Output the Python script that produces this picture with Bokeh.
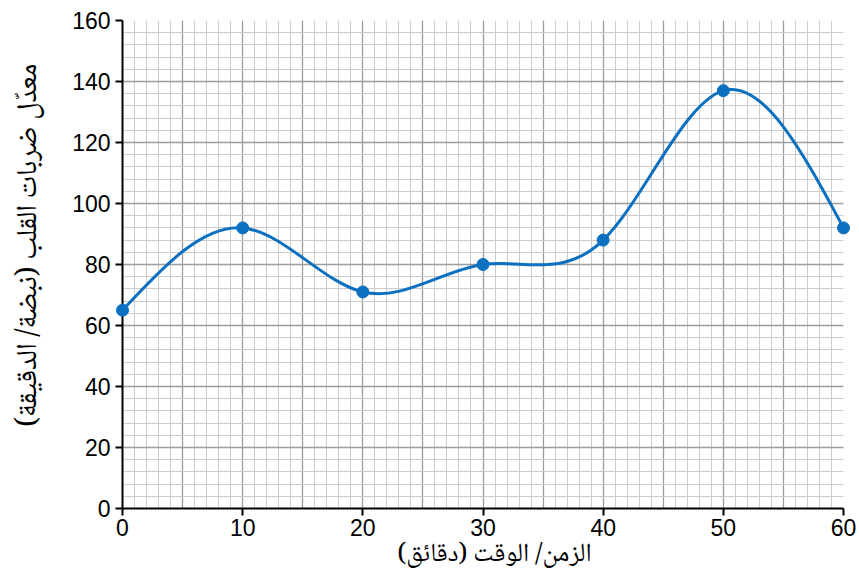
import numpy as np
from bokeh.plotting import figure
from bokeh.models import Range1d, SingleIntervalTicker, ColumnDataSource
from bokeh.embed import file_html
from bokeh.resources import INLINE

# data
minutes = [0, 10, 20, 30, 40, 50, 60]
heart_rate = [65, 92, 71, 80, 88, 137, 92]
x_ticks = [0, 10, 20, 30, 40, 50, 60]
y_ticks = [0, 20, 40, 60, 80, 100, 120, 140, 160]
x_title = "الزمن/ الوقت (دقائق)"
y_title = "معدّل ضربات القلب (نبضة/ الدقيقة)"

BLUE = "#0b70c0"
AR_FONT = "Noto Naskh Arabic, Noto Sans Arabic, DejaVu Sans"
NUM_FONT = "Liberation Sans"

# natural cubic spline slopes -> bezier segments (smooth line through the data)
x = np.array(minutes, dtype=float)
y = np.array(heart_rate, dtype=float)
n = len(x)
h = np.diff(x)
A = np.zeros((n, n))
b = np.zeros(n)
A[0, 0] = 1
A[-1, -1] = 1
for i in range(1, n - 1):
    A[i, i - 1] = h[i - 1]
    A[i, i] = 2 * (h[i - 1] + h[i])
    A[i, i + 1] = h[i]
    b[i] = 6 * ((y[i + 1] - y[i]) / h[i] - (y[i] - y[i - 1]) / h[i - 1])
M = np.linalg.solve(A, b)
m = np.zeros(n)
for i in range(n - 1):
    m[i] = (y[i + 1] - y[i]) / h[i] - h[i] * (2 * M[i] + M[i + 1]) / 6
m[-1] = (y[-1] - y[-2]) / h[-1] + h[-1] * (M[-2] + 2 * M[-1]) / 6

seg = ColumnDataSource(dict(
    x0=x[:-1], y0=y[:-1], x1=x[1:], y1=y[1:],
    cx0=x[:-1] + h / 3, cy0=y[:-1] + m[:-1] * h / 3,
    cx1=x[1:] - h / 3, cy1=y[1:] - m[1:] * h / 3,
))

p = figure(width=859, height=579, x_range=Range1d(0, 60), y_range=Range1d(0, 160),
           output_backend="svg", toolbar_location=None,
           min_border_left=122, min_border_top=20, min_border_right=16, min_border_bottom=71)
p.outline_line_color = None
p.background_fill_color = "white"
p.border_fill_color = "white"

# grids
p.xgrid.ticker = SingleIntervalTicker(interval=5, num_minor_ticks=5)
p.ygrid.ticker = SingleIntervalTicker(interval=20, num_minor_ticks=5)
for g in (p.xgrid, p.ygrid):
    g.grid_line_color = "#9c9c9c"
    g.grid_line_width = 1.3
    g.minor_grid_line_color = "#cccccc"
    g.minor_grid_line_width = 1

# axes
p.xaxis.ticker = x_ticks
p.yaxis.ticker = y_ticks
for ax in (p.xaxis, p.yaxis):
    ax.axis_line_color = "black"
    ax.axis_line_width = 2
    ax.major_tick_line_color = "black"
    ax.major_tick_line_width = 2
    ax.major_tick_out = 7
    ax.major_tick_in = 0
    ax.minor_tick_line_color = None
    ax.major_label_text_font = NUM_FONT
    ax.major_label_text_font_size = "23px"
    ax.major_label_text_color = "black"
    ax.axis_label_text_font = AR_FONT
    ax.axis_label_text_font_style = "normal"
    ax.axis_label_text_color = "black"
p.xaxis.major_label_standoff = 3
p.yaxis.major_label_standoff = 5
p.xaxis.axis_label = "\u00a0" * 4 + x_title
p.yaxis.axis_label = "\u00a0" * 6 + y_title
p.xaxis.axis_label_text_font_size = "26px"
p.yaxis.axis_label_text_font_size = "29px"
p.xaxis.axis_label_standoff = -6
p.yaxis.axis_label_standoff = 15

p.bezier(x0="x0", y0="y0", x1="x1", y1="y1", cx0="cx0", cy0="cy0", cx1="cx1", cy1="cy1",
         source=seg, line_color=BLUE, line_width=3)
r = p.scatter(minutes, heart_rate, size=12, color=BLUE)
r.level = "overlay"

open("out.html", "w").write(file_html(p, INLINE))
